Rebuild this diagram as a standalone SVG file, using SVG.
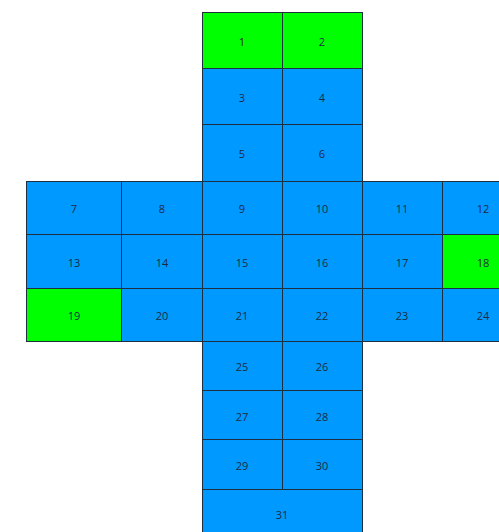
<svg xmlns="http://www.w3.org/2000/svg" width="499" height="532" viewBox="0 0 499 532">
<style>
.b{fill:#0099ff;stroke:#1e3040;stroke-width:1}
.g{fill:#00ff00;stroke:#1e3040;stroke-width:1}
text{font-family:"Open Sans","Liberation Sans",sans-serif;font-size:11px;fill:#1c2a44;text-anchor:middle;dominant-baseline:central}
</style>
<rect width="499" height="532" fill="#ffffff"/>
<g id="c1"><rect class="g" x="202.5" y="12.5" width="80" height="56"/><text x="242" y="41">1</text></g>
<g id="c2"><rect class="g" x="282.5" y="12.5" width="80" height="56"/><text x="322" y="41">2</text></g>
<g id="c3"><rect class="b" x="202.5" y="68.5" width="80" height="56"/><text x="242" y="97">3</text></g>
<g id="c4"><rect class="b" x="282.5" y="68.5" width="80" height="56"/><text x="322" y="97">4</text></g>
<g id="c5"><rect class="b" x="202.5" y="124.5" width="80" height="57"/><text x="242" y="153">5</text></g>
<g id="c6"><rect class="b" x="282.5" y="124.5" width="80" height="57"/><text x="322" y="153">6</text></g>
<g id="c7"><rect class="b" x="26.5" y="181.5" width="95" height="53"/><text x="74" y="208">7</text></g>
<g id="c8"><rect class="b" x="121.5" y="181.5" width="81" height="53"/><text x="162" y="208">8</text></g>
<g id="c9"><rect class="b" x="202.5" y="181.5" width="80" height="53"/><text x="242" y="208">9</text></g>
<g id="c10"><rect class="b" x="282.5" y="181.5" width="80" height="53"/><text x="322" y="208">10</text></g>
<g id="c11"><rect class="b" x="362.5" y="181.5" width="80" height="53"/><text x="402" y="208">11</text></g>
<g id="c12"><rect class="b" x="442.5" y="181.5" width="80" height="53"/><text x="483" y="208">12</text></g>
<g id="c13"><rect class="b" x="26.5" y="234.5" width="95" height="54"/><text x="74" y="262">13</text></g>
<g id="c14"><rect class="b" x="121.5" y="234.5" width="81" height="54"/><text x="162" y="262">14</text></g>
<g id="c15"><rect class="b" x="202.5" y="234.5" width="80" height="54"/><text x="242" y="262">15</text></g>
<g id="c16"><rect class="b" x="282.5" y="234.5" width="80" height="54"/><text x="322" y="262">16</text></g>
<g id="c17"><rect class="b" x="362.5" y="234.5" width="80" height="54"/><text x="402" y="262">17</text></g>
<g id="c18"><rect class="g" x="442.5" y="234.5" width="80" height="54"/><text x="483" y="262">18</text></g>
<g id="c19"><rect class="g" x="26.5" y="288.5" width="95" height="53"/><text x="74" y="315">19</text></g>
<g id="c20"><rect class="b" x="121.5" y="288.5" width="81" height="53"/><text x="162" y="315">20</text></g>
<g id="c21"><rect class="b" x="202.5" y="288.5" width="80" height="53"/><text x="242" y="315">21</text></g>
<g id="c22"><rect class="b" x="282.5" y="288.5" width="80" height="53"/><text x="322" y="315">22</text></g>
<g id="c23"><rect class="b" x="362.5" y="288.5" width="80" height="53"/><text x="402" y="315">23</text></g>
<g id="c24"><rect class="b" x="442.5" y="288.5" width="80" height="53"/><text x="483" y="315">24</text></g>
<g id="c25"><rect class="b" x="202.5" y="341.5" width="80" height="49"/><text x="242" y="366">25</text></g>
<g id="c26"><rect class="b" x="282.5" y="341.5" width="80" height="49"/><text x="322" y="366">26</text></g>
<g id="c27"><rect class="b" x="202.5" y="390.5" width="80" height="49"/><text x="242" y="416">27</text></g>
<g id="c28"><rect class="b" x="282.5" y="390.5" width="80" height="49"/><text x="322" y="416">28</text></g>
<g id="c29"><rect class="b" x="202.5" y="439.5" width="80" height="50"/><text x="242" y="465">29</text></g>
<g id="c30"><rect class="b" x="282.5" y="439.5" width="80" height="50"/><text x="322" y="465">30</text></g>
<g id="c31"><rect class="b" x="202.5" y="489.5" width="160" height="60"/><text x="282" y="514">31</text></g>
<g id="connectors"></g>
</svg>
